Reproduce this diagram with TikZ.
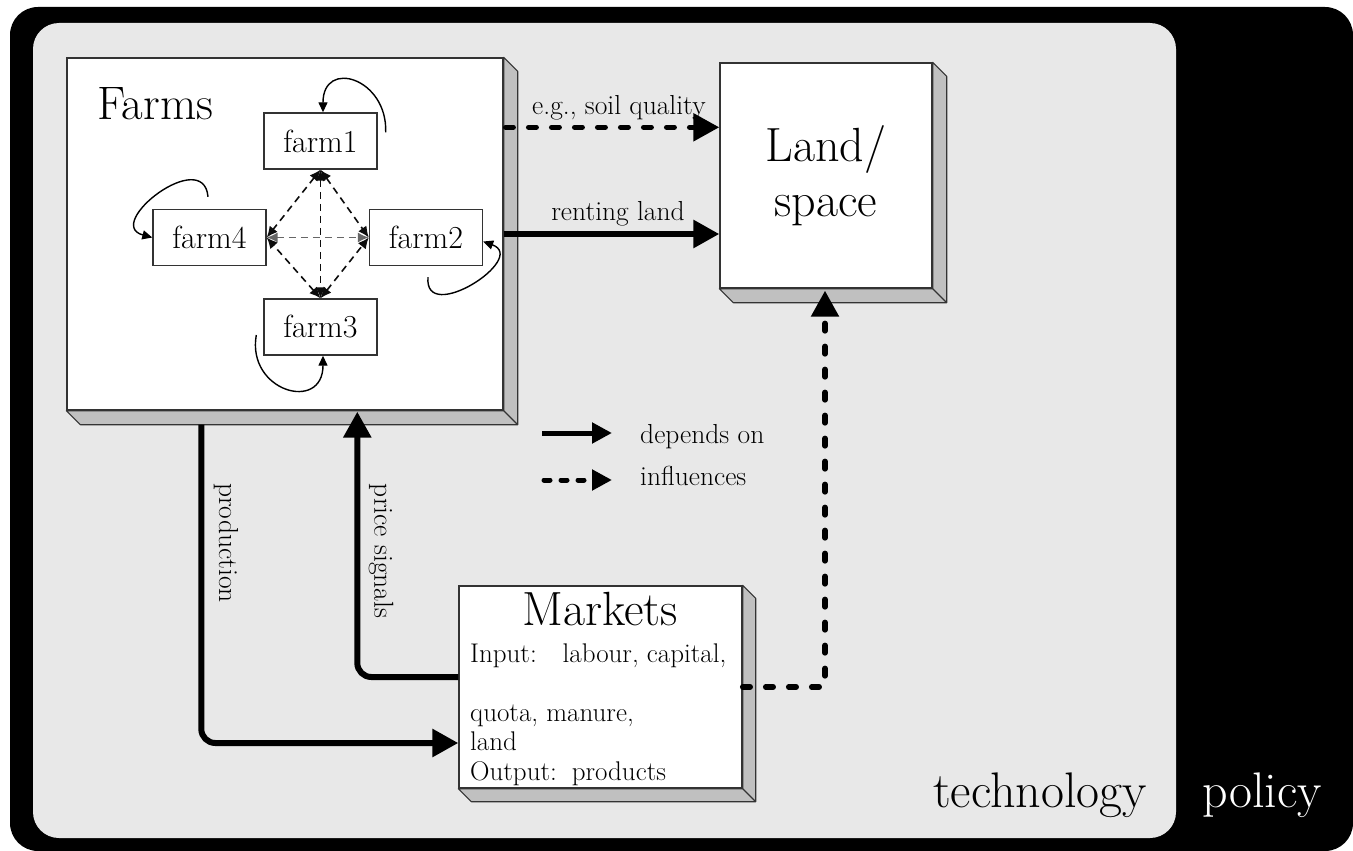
\documentclass[tikz,border=0pt]{standalone}
\usepackage{fontspec}
\usetikzlibrary{arrows.meta,calc}
\definecolor{panel}{HTML}{E8E8E8}
\definecolor{sidegray}{HTML}{C0C0C0}
\definecolor{edgec}{HTML}{333333}
\pgfdeclarelayer{bg}
\pgfdeclarelayer{sides}
\pgfsetlayers{bg,sides,main}
\newcommand\boxsides[2]{%
  \begin{pgfonlayer}{sides}
  \draw[side] (#1.north east) -- ++(#2,#2) -- ($(#1.south east)+(#2,#2)$) -- ($(#1.south west)+(#2,#2)$) -- (#1.south west) -- (#1.south east) -- cycle;
  \draw[side] (#1.south east) -- ++(#2,#2);
  \end{pgfonlayer}}
\begin{document}
\begin{tikzpicture}[x=1pt,y=-1pt,
  box/.style={draw=edgec, line width=1.4pt, fill=white, inner sep=0pt},
  side/.style={draw=edgec, line width=1.1pt, fill=sidegray, line join=round},
  farm/.style={draw=edgec, line width=1.4pt, fill=white, minimum width=113pt, minimum height=56pt, inner sep=0pt, font=\fontsize{32}{36}\selectfont},
  lbl/.style={inner sep=0pt, font=\fontsize{27.5}{32}\selectfont},
  dep/.style={line width=6pt, -{Triangle[length=26pt,width=27pt]}, rounded corners=14pt},
  infl/.style={line width=5.5pt, dash pattern=on 7.5pt off 15.5pt, line cap=round, -{Triangle[length=26pt,width=27pt]}},
  legdep/.style={line width=5pt, -{Triangle[length=20pt,width=20pt]}},
  leginfl/.style={line width=5pt, dash pattern=on 6pt off 11pt, line cap=round, -{Triangle[length=20pt,width=20pt]}},
  fl/.style={line width=1.6pt, draw=black!95, dash pattern=on 7pt off 5pt, {Latex[length=11pt,width=10pt]}-{Latex[length=11pt,width=10pt]}},
  flgray/.style={fl, draw=black!60},
  selfloop/.style={line width=1.4pt, -{Triangle[length=10pt,width=9pt]}}
]
\useasboundingbox (0,0) rectangle (1353,851);
\begin{pgfonlayer}{bg}
\fill[black, rounded corners=28pt] (10,7) rectangle (1353,851);
\fill[panel, rounded corners=26pt] (33,23) rectangle (1176,838);
\end{pgfonlayer}

% main boxes
\node[box, minimum width=436pt, minimum height=352pt] (farms) at (285,234) {};
\node[box, minimum width=212pt, minimum height=225pt, align=center, font=\fontsize{48}{55}\selectfont] (land) at (826,175.5) {Land/\\space};
\node[box, minimum width=283pt, minimum height=202pt] (markets) at (600.5,687) {};
\boxsides{farms}{14}
\boxsides{land}{14}
\boxsides{markets}{13}

\node[anchor=base west, inner sep=0pt, font=\fontsize{47}{52}\selectfont] (farmslbl) at (97,120) {Farms};
\node[anchor=base, inner sep=0pt, font=\fontsize{48}{54}\selectfont] (mtitle) at (600,625) {Markets};
\node[anchor=north west, align=left, inner sep=0pt, font=\fontsize{27}{29.5}\selectfont] (mbody) at (470,643.3)
  {Input:\hspace{15pt} labour, capital,\\[29.5pt] quota, manure,\\ land\\ Output:\hspace{4pt} products};

% farms
\node[farm] (farm1) at (320.5,141) {farm1};
\node[farm] (farm2) at (426,237.5) {farm2};
\node[farm] (farm3) at (320.5,327) {farm3};
\node[farm] (farm4) at (209.5,237.5) {farm4};

\draw[fl] (farm1.south) -- (farm3.north);
\draw[flgray] (farm4.east) -- (farm2.west);
\draw[fl] (farm1.south) -- (farm2.west);
\draw[fl] (farm1.south) -- (farm4.east);
\draw[fl] (farm3.north) -- (farm2.west);
\draw[fl] (farm3.north) -- (farm4.east);

\draw[selfloop] ($(farm1.north east)+(8,20)$) to[out=88,in=90,looseness=2.1] ($(farm1.north)+(2.5,0)$);
\draw[selfloop] ($(farm4.north)+(-1.5,-12)$) to[out=95,in=165,looseness=1.9] (farm4.west);
\draw[selfloop] ($(farm2.south)+(2,11)$) to[out=-95,in=-20,looseness=1.9] ($(farm2.east)+(0,4)$);
\draw[selfloop] ($(farm3.west)+(-7,8)$) to[out=-100,in=-90,looseness=2.1] ($(farm3.south)+(2.5,0)$);

% connectors
\draw[infl] ($(farms.north east)+(2,70)$) -- node[pos=0.53, above=4pt, lbl] {e.g., soil quality} ($(land.north west)+(0,65)$);
\draw[dep] (farms.east) -- node[pos=0.53, above=5pt, lbl] {renting land} (farms.east -| land.west);
\draw[dep] ($(farms.south west)+(135,14)$) |- ($(markets.west)+(0,56)$);
\draw[dep] ($(markets.west)+(0,-10)$) -| ($(farms.south west)+(291,1)$);
\draw[infl, rounded corners=3pt] (markets.east) -| ($(land.south)+(-1,2)$);

\node[lbl, rotate=-90] (prodlbl) at (226,543) {production};
\node[lbl, rotate=-90] (pricelbl) at (381,551) {price signals};

% legend
\node[lbl, anchor=base west] (ldep) at (640,443) {depends on};
\node[lbl, anchor=base west] (linfl) at (640,485) {influences};
\draw[legdep] ($(ldep.base west)+(-98,-10)$) -- ($(ldep.base west)+(-28,-10)$);
\draw[leginfl] ($(linfl.base west)+(-96,-5)$) -- ($(linfl.base west)+(-28,-5)$);

\node[anchor=base west, inner sep=0pt, font=\fontsize{50}{54}\selectfont] (tech) at (933,807) {technology};
\node[anchor=base west, inner sep=0pt, font=\fontsize{50}{54}\selectfont, text=white] (pol) at (1202,807) {policy};
\end{tikzpicture}
\end{document}
